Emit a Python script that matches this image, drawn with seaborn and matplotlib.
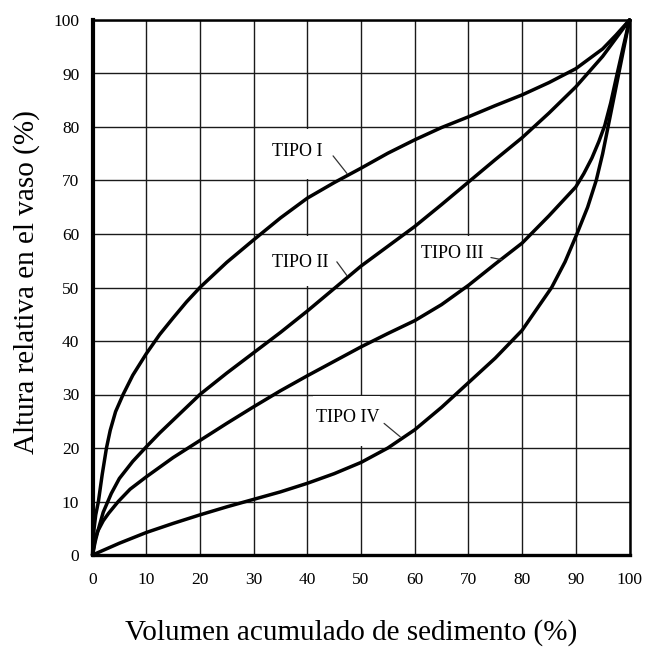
import matplotlib
matplotlib.use("Agg")
import matplotlib.pyplot as plt
from matplotlib.patches import Rectangle
import seaborn as sns
import pandas as pd

# ---- data ----
x_tipo1 = [0, 0.1, 0.3, 0.6, 1.1, 1.8, 2.6, 3.3, 4.3, 5.7, 7.5, 10, 12.5, 15, 17.5, 20, 25, 30, 35, 40, 45, 50, 55, 60, 65, 70, 75, 80, 85, 90, 95, 97.5, 100]
y_tipo1 = [0, 2.5, 5, 7.5, 10, 15, 20, 23.3, 26.8, 30, 33.6, 37.6, 41.2, 44.3, 47.3, 50, 54.7, 58.9, 63.0, 66.7, 69.6, 72.3, 75.1, 77.6, 79.9, 81.9, 84.0, 86.0, 88.3, 90.9, 94.6, 97.2, 100]

x_tipo2 = [0, 0.5, 1, 2, 3.5, 5, 7.5, 10, 12.5, 15, 17.5, 20, 25, 30, 35, 40, 45, 50, 55, 60, 65, 70, 75, 80, 85, 90, 95, 100]
y_tipo2 = [0, 2.5, 4.5, 8, 11.5, 14.3, 17.5, 20.2, 22.8, 25.2, 27.6, 30, 34, 37.8, 41.6, 45.6, 49.8, 54.0, 57.7, 61.4, 65.5, 69.7, 73.9, 78.0, 82.6, 87.5, 93.2, 100]

x_tipo3 = [0, 0.5, 1, 2, 3, 4.8, 7, 10, 15, 20, 25, 30, 35, 40, 45, 50, 55, 60, 65, 70, 75, 80, 85, 90, 91.5, 93, 94.3, 95.4, 96.5, 97.6, 98.8, 100]
y_tipo3 = [0, 3.1, 4.5, 6.4, 7.8, 10, 12.3, 14.6, 18.2, 21.4, 24.6, 27.7, 30.7, 33.5, 36.2, 38.9, 41.4, 43.8, 46.8, 50.4, 54.4, 58.3, 63.4, 68.8, 71.3, 74.2, 77.3, 80.3, 84.5, 89.5, 94.8, 100]

x_tipo4 = [0, 5, 10, 15, 20, 25, 30, 35, 40, 45, 50, 55, 60, 65, 70, 75, 80, 85.5, 88, 90.2, 92.2, 93.8, 95, 96, 97, 98, 99, 100]
y_tipo4 = [0, 2.2, 4.2, 5.9, 7.5, 9.0, 10.4, 11.8, 13.4, 15.2, 17.3, 20.0, 23.4, 27.6, 32.2, 36.8, 42.0, 50, 54.8, 60, 65, 70, 75, 80, 85, 90, 95, 100]

ticks = [0, 10, 20, 30, 40, 50, 60, 70, 80, 90, 100]
tick_labels = [str(t) for t in ticks]

label_names = ["TIPO I", "TIPO II", "TIPO III", "TIPO IV"]
label_xy = [(33.4, 75.4), (33.4, 54.6), (61.1, 56.3), (41.6, 25.7)]
leaders = [((44.8, 74.6), (47.4, 71.3)),
           ((45.5, 54.8), (47.4, 52.2)),
           ((74.2, 55.6), (76.2, 55.2)),
           ((54.3, 24.6), (57.3, 22.1))]

xlabel = "Volumen acumulado de sedimento (%)"
ylabel = "Altura relativa en el vaso (%)"

# ---- plotting ----
sns.set_theme(style="white")
plt.rcParams["font.family"] = ["Liberation Serif", "DejaVu Serif"]

fig = plt.figure(figsize=(6.47, 6.47), dpi=100)
ax = fig.add_axes([92.5 / 647, 1 - 555 / 647, 537 / 647, 535 / 647])

series = [(x_tipo1, y_tipo1), (x_tipo2, y_tipo2), (x_tipo3, y_tipo3), (x_tipo4, y_tipo4)]
for xs, ys in series:
    df = pd.DataFrame({"x": xs, "y": ys})
    sns.lineplot(data=df, x="x", y="y", ax=ax, color="black", linewidth=2.5,
                 sort=False, estimator=None, clip_on=False, zorder=3)

ax.set_xlim(0, 100)
ax.set_ylim(0, 100)
ax.set_xticks(ticks)
ax.set_yticks(ticks)
ax.set_xticklabels(tick_labels, fontsize=12.5)
ax.set_yticklabels(tick_labels, fontsize=12.5)
ax.tick_params(axis="both", length=0, colors="black")
ax.tick_params(axis="x", pad=12)
ax.tick_params(axis="y", pad=9.5)

ax.grid(True, color="#1a1a1a", linewidth=1.0)
ax.set_axisbelow(True)

for side, lw in [("left", 3.0), ("bottom", 2.4), ("top", 1.8), ("right", 1.8)]:
    ax.spines[side].set_visible(True)
    ax.spines[side].set_color("black")
    ax.spines[side].set_linewidth(lw)

ax.set_xlabel(xlabel, fontsize=21, color="black")
ax.set_ylabel(ylabel, fontsize=21, color="black")
ax.xaxis.label.set_va("center")
ax.yaxis.label.set_va("center")
ax.xaxis.set_label_coords(0.482, -0.144)
ax.yaxis.set_label_coords(-0.122, 0.511)

# white masks behind the labels (hide vertical grid segment, as in the reference)
for (tx, ty) in label_xy:
    cell_low = (ty // 10) * 10
    ax.add_patch(Rectangle((tx - 0.5, cell_low + 0.3), 12.5, 9.4,
                           facecolor="white", edgecolor="none", zorder=1))

for name, (tx, ty), (p0, p1) in zip(label_names, label_xy, leaders):
    ax.text(tx, ty, name, fontsize=13, ha="left", va="center", color="black", zorder=4)
    ax.plot([p0[0], p1[0]], [p0[1], p1[1]], color="#333333", linewidth=0.9, zorder=4)

fig.savefig("out.png", dpi=100, facecolor="white")
